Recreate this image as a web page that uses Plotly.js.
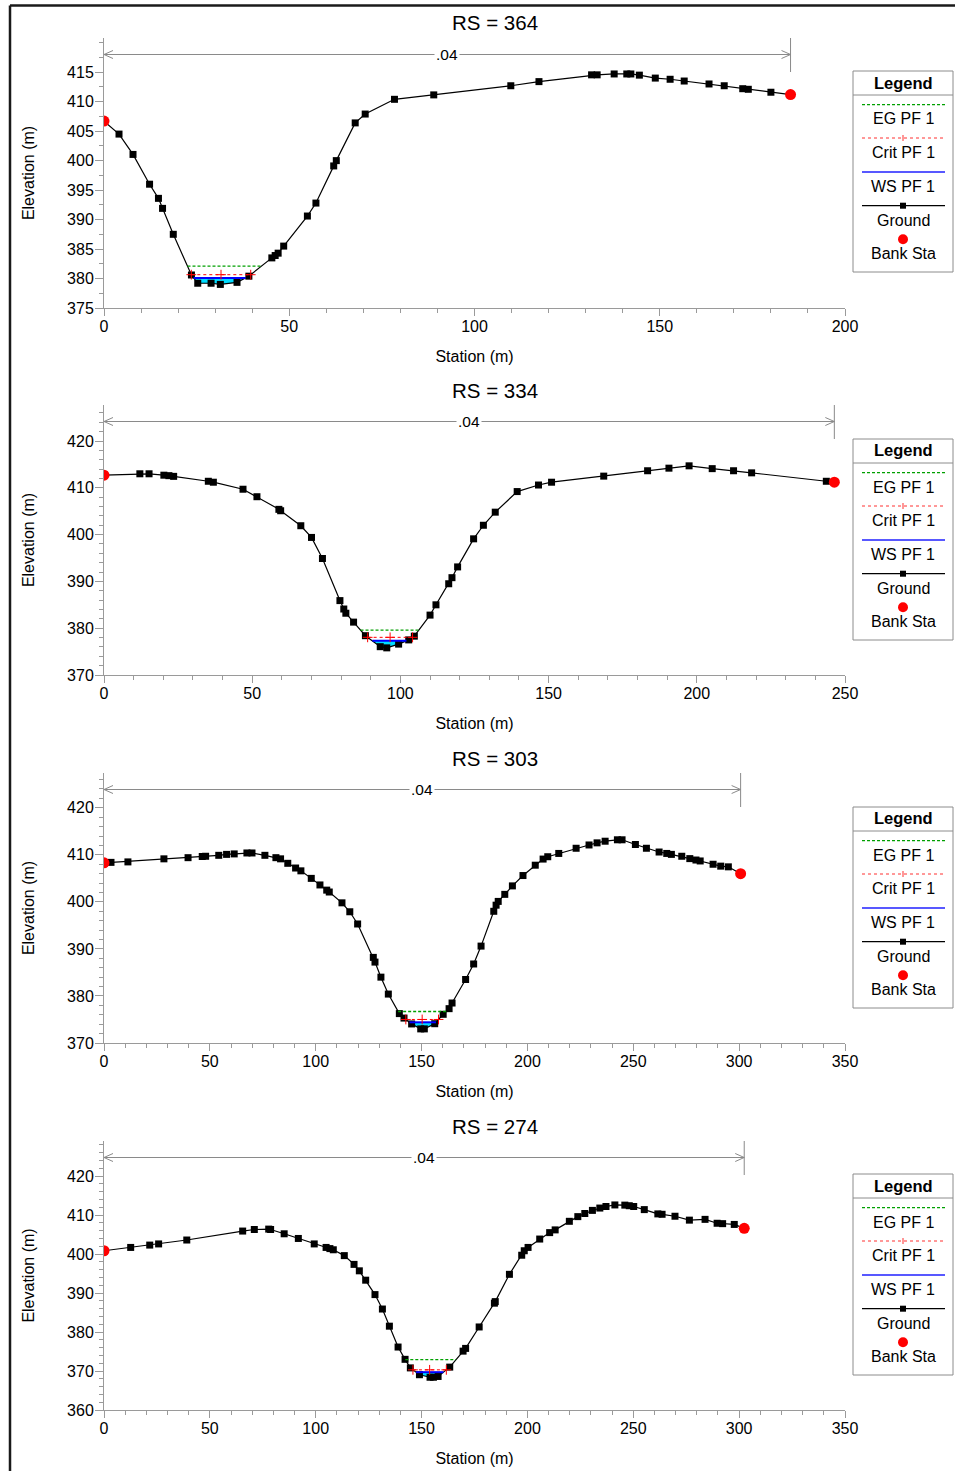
<!DOCTYPE html>
<html><head><meta charset="utf-8">
<script src="https://cdn.plot.ly/plotly-3.0.1.min.js"></script>
<style>html,body{margin:0;padding:0;background:#fff}#chart{width:955px;height:1471px}</style>
</head><body><div id="chart"></div>
<script>
// ---------------- DATA ----------------
const titles = ['RS = 364', 'RS = 334', 'RS = 303', 'RS = 274'];
const nValue = '.04';
const legendLabels = ['EG PF 1', 'Crit PF 1', 'WS PF 1', 'Ground', 'Bank Sta'];

// y tick labels per panel
const yTicks364 = [375, 380, 385, 390, 395, 400, 405, 410, 415];
const yTicks334 = [370, 380, 390, 400, 410, 420];
const yTicks303 = [370, 380, 390, 400, 410, 420];
const yTicks274 = [360, 370, 380, 390, 400, 410, 420];

const sta364 = [0, 4.05, 7.83, 12.3, 14.7, 15.8, 18.7, 23.6, 25.3, 28.9, 31.4, 35.9, 39.1, 45.3, 46.2, 47.0, 48.5, 54.9, 57.2, 62.0, 62.7, 67.8, 70.5, 78.4, 89.0, 109.8, 117.4, 131.6, 133.1, 137.7, 141.1, 142.2, 144.5, 148.8, 152.8, 156.6, 163.3, 167.4, 172.4, 173.9, 180.0, 185.3];
const elev364 = [406.7, 404.5, 401.05, 396.0, 393.6, 391.9, 387.5, 380.6, 379.2, 379.2, 379.0, 379.35, 380.4, 383.5, 383.9, 384.3, 385.5, 390.6, 392.8, 399.1, 400.0, 406.4, 407.9, 410.4, 411.15, 412.7, 413.4, 414.55, 414.55, 414.7, 414.7, 414.7, 414.5, 414.0, 413.8, 413.5, 413.0, 412.7, 412.2, 412.1, 411.6, 411.2];
const bankSta364 = [0, 185.3];
const bankElev364 = [406.7, 411.2];

const sta334 = [0, 12.1, 15.2, 20.2, 21.9, 23.5, 35.2, 36.9, 46.9, 51.6, 59.0, 59.6, 66.4, 70.0, 73.7, 79.6, 80.9, 81.6, 84.2, 88.2, 93.2, 95.4, 99.4, 102.8, 104.7, 110.0, 112.0, 116.3, 117.4, 119.3, 124.7, 128.0, 132.0, 139.4, 146.6, 151.0, 168.6, 183.4, 190.6, 197.4, 205.2, 212.4, 218.5, 243.7, 246.4];
const elev334 = [412.7, 413.0, 413.0, 412.7, 412.6, 412.45, 411.4, 411.2, 409.7, 408.1, 405.4, 405.1, 401.9, 399.4, 394.9, 385.9, 384.1, 383.2, 381.3, 378.4, 376.05, 375.8, 376.6, 377.5, 378.3, 382.8, 385.0, 389.5, 390.8, 393.1, 399.1, 402.0, 404.8, 409.2, 410.6, 411.2, 412.5, 413.65, 414.2, 414.7, 414.1, 413.65, 413.2, 411.4, 411.2];
const bankSta334 = [0, 246.4];
const bankElev334 = [412.7, 411.2];

const sta303 = [0, 3.3, 11.3, 28.3, 39.7, 46.4, 48.0, 54.2, 57.9, 61.5, 67.5, 69.9, 76.0, 81.2, 83.4, 86.8, 90.5, 93.0, 97.9, 102.0, 105.2, 106.4, 112.4, 116.1, 119.8, 127.2, 128.0, 130.8, 134.3, 139.5, 141.7, 145.3, 149.6, 151.3, 156.2, 160.2, 163.0, 164.4, 170.8, 174.6, 178.1, 184.1, 185.2, 186.2, 189.3, 192.9, 197.9, 203.7, 207.4, 209.6, 214.8, 223.0, 229.1, 232.9, 236.7, 242.5, 244.7, 251.0, 256.2, 262.2, 265.8, 268.0, 272.9, 276.7, 279.6, 281.6, 287.7, 291.3, 294.9, 300.7];
const elev303 = [408.3, 408.4, 408.5, 409.15, 409.4, 409.65, 409.7, 409.9, 410.1, 410.2, 410.4, 410.4, 409.9, 409.4, 409.15, 408.2, 407.2, 406.6, 405.0, 403.6, 402.5, 402.1, 399.8, 397.9, 395.3, 388.2, 387.2, 384.0, 380.4, 376.25, 375.3, 374.05, 373.0, 373.0, 374.1, 376.1, 377.3, 378.5, 383.5, 386.8, 390.6, 398.0, 399.3, 400.1, 401.6, 403.4, 405.6, 407.8, 409.1, 409.6, 410.3, 411.4, 412.1, 412.55, 412.9, 413.2, 413.2, 412.2, 411.4, 410.6, 410.3, 410.1, 409.7, 409.2, 408.9, 408.7, 408.0, 407.6, 407.45, 406.0];
const bankSta303 = [0, 300.7];
const bankElev303 = [408.3, 406.0];

const sta274 = [0, 12.6, 21.6, 25.8, 39.1, 65.5, 71.0, 77.8, 78.7, 85.1, 91.8, 99.3, 104.9, 106.7, 108.3, 113.5, 118.1, 120.6, 123.6, 128.0, 131.5, 134.8, 138.9, 142.2, 144.7, 149.0, 154.0, 155.6, 157.8, 163.3, 169.6, 170.8, 177.2, 184.4, 184.8, 191.5, 197.3, 198.5, 200.3, 205.8, 210.5, 213.1, 219.8, 223.8, 227.1, 230.7, 234.2, 237.1, 241.3, 246.0, 248.1, 250.2, 255.2, 261.6, 263.6, 269.7, 276.5, 283.9, 289.6, 292.2, 297.7, 302.4];
const elev274 = [400.85, 401.7, 402.3, 402.6, 403.6, 405.9, 406.3, 406.4, 406.3, 405.2, 404.0, 402.6, 401.7, 401.4, 401.1, 399.6, 397.35, 395.7, 393.3, 389.6, 385.9, 381.5, 376.15, 373.0, 370.8, 369.05, 368.4, 368.4, 368.6, 371.0, 375.1, 375.8, 381.3, 387.4, 387.8, 394.8, 399.7, 400.85, 401.7, 403.85, 405.5, 406.2, 408.4, 409.6, 410.4, 411.2, 411.8, 412.2, 412.6, 412.55, 412.4, 412.2, 411.4, 410.3, 410.2, 409.7, 408.7, 408.9, 407.9, 407.8, 407.6, 406.6];
const bankSta274 = [0, 302.4];
const bankElev274 = [400.85, 406.6];

// water levels [364, 334, 303, 274]
const egLevels   = [382.1, 379.6, 376.7, 372.9];
const critLevels = [380.65, 378.05, 375.0, 370.3];
const wsLevels   = [380.1, 377.3, 374.4, 369.7];

// ---------------- LAYOUT SPEC (pixels) ----------------
const W = 955, H = 1471;
const FONT = 'Liberation Sans, Arial, sans-serif';
const px = v => v / W;
const py = v => 1 - v / H;
const plotLeft = 104, plotRight = 845;
const spec = [
  {bottom: 308, top: 38, yr: [375, 420.8], ymin: 2.5, xr: [0, 200], titleY: 22, legTop: 71},
  {bottom: 675, top: 405, yr: [370, 427.7], ymin: 2, xr: [0, 250], titleY: 390, legTop: 439},
  {bottom: 1043, top: 773, yr: [370, 427.4], ymin: 2, xr: [0, 350], titleY: 758, legTop: 807},
  {bottom: 1410, top: 1141, yr: [360, 429], ymin: 2, xr: [0, 350], titleY: 1126, legTop: 1174}
];
const panels = [
  {sta: sta364, elev: elev364, bs: bankSta364, be: bankElev364, yt: yTicks364},
  {sta: sta334, elev: elev334, bs: bankSta334, be: bankElev334, yt: yTicks334},
  {sta: sta303, elev: elev303, bs: bankSta303, be: bankElev303, yt: yTicks303},
  {sta: sta274, elev: elev274, bs: bankSta274, be: bankElev274, yt: yTicks274}
];

function crossings(xs, ys, L) {
  let imin = 0;
  for (let k = 1; k < ys.length; k++) if (ys[k] < ys[imin]) imin = k;
  let i = imin; while (i > 0 && ys[i - 1] < L) i--;
  const xl = i > 0 ? xs[i - 1] + (L - ys[i - 1]) * (xs[i] - xs[i - 1]) / (ys[i] - ys[i - 1]) : xs[0];
  let j = imin; while (j < xs.length - 1 && ys[j + 1] < L) j++;
  const xr = j < xs.length - 1 ? xs[j] + (L - ys[j]) * (xs[j + 1] - xs[j]) / (ys[j + 1] - ys[j]) : xs[xs.length - 1];
  return {xl, xr, i, j};
}

const traces = [];
const layout = {
  width: W, height: H, margin: {l: 0, r: 0, t: 0, b: 0},
  paper_bgcolor: '#fff', plot_bgcolor: '#fff',
  showlegend: false,
  font: {family: FONT, size: 16, color: '#000'},
  shapes: [], annotations: []
};

const axisColor = '#9a9a9a';
panels.forEach((p, k) => {
  const s = spec[k];
  const xa = k === 0 ? 'xaxis' : 'xaxis' + (k + 1);
  const ya = k === 0 ? 'yaxis' : 'yaxis' + (k + 1);
  const xr = k === 0 ? 'x' : 'x' + (k + 1);
  const yr = k === 0 ? 'y' : 'y' + (k + 1);
  layout[xa] = {
    domain: [px(plotLeft), px(plotRight)], anchor: yr, range: s.xr,
    dtick: 50, tick0: 0, ticks: 'outside', ticklen: 7, tickcolor: axisColor,
    ticklabelstandoff: -3,
    minor: {dtick: 10, ticks: 'outside', ticklen: 4, tickcolor: axisColor, showgrid: false},
    showline: true, linecolor: axisColor, linewidth: 1, showgrid: false, zeroline: false,
    tickfont: {size: 16, family: FONT, color: '#000'},
    title: {text: 'Station (m)', font: {size: 16, family: FONT, color: '#000'}, standoff: 16},
    fixedrange: true
  };
  layout[ya] = {
    domain: [py(s.bottom), py(s.top)], anchor: xr, range: s.yr,
    tickmode: 'array', tickvals: p.yt, ticks: 'outside', ticklen: 8, tickcolor: axisColor,
    ticklabelstandoff: -2,
    minor: {tickmode: 'linear', tick0: 0, dtick: s.ymin, ticks: 'outside', ticklen: 4, tickcolor: axisColor, showgrid: false},
    showline: true, linecolor: axisColor, linewidth: 1, showgrid: false, zeroline: false,
    tickfont: {size: 16, family: FONT, color: '#000'},
    title: {text: 'Elevation (m)', font: {size: 16, family: FONT, color: '#000'}, standoff: 28},
    fixedrange: true
  };

  const ws = crossings(p.sta, p.elev, wsLevels[k]);
  const eg = crossings(p.sta, p.elev, egLevels[k]);
  const cr = crossings(p.sta, p.elev, critLevels[k]);

  // water fill
  const fx = [ws.xl].concat(p.sta.slice(ws.i, ws.j + 1), [ws.xr]);
  const fy = [wsLevels[k]].concat(p.elev.slice(ws.i, ws.j + 1), [wsLevels[k]]);
  traces.push({x: fx, y: fy, xaxis: xr, yaxis: yr, mode: 'lines', fill: 'toself',
    fillcolor: '#00dcff', line: {width: 0, color: '#00dcff'}, hoverinfo: 'skip', name: 'WS fill'});
  // ground
  traces.push({x: p.sta, y: p.elev, xaxis: xr, yaxis: yr, mode: 'lines+markers', name: 'Ground',
    line: {color: '#000', width: 1.2}, marker: {symbol: 'square', size: 7, color: '#000'}});
  // EG
  traces.push({x: [eg.xl, eg.xr], y: [egLevels[k], egLevels[k]], xaxis: xr, yaxis: yr, mode: 'lines',
    name: 'EG PF 1', line: {color: '#00a000', dash: '3px,2px', width: 1.3}});
  // WS
  traces.push({x: [ws.xl, ws.xr], y: [wsLevels[k], wsLevels[k]], xaxis: xr, yaxis: yr, mode: 'lines',
    name: 'WS PF 1', line: {color: '#0000ff', width: 2}});
  // Crit
  traces.push({x: [cr.xl, (cr.xl + cr.xr) / 2, cr.xr], y: [critLevels[k], critLevels[k], critLevels[k]],
    xaxis: xr, yaxis: yr, mode: 'lines+markers', name: 'Crit PF 1',
    line: {color: '#ff0000', dash: 'dot', width: 1},
    marker: {symbol: 'cross-thin', size: 7, line: {color: '#ff0000', width: 1}}});
  // Bank Sta
  traces.push({x: p.bs, y: p.be, xaxis: xr, yaxis: yr, mode: 'markers', name: 'Bank Sta',
    marker: {symbol: 'circle', size: 11, color: '#ff0000'}});

  // subplot title
  layout.annotations.push({text: titles[k], xref: 'paper', yref: 'paper', x: px(494.5), y: py(s.titleY),
    xanchor: 'center', yanchor: 'middle', showarrow: false, font: {size: 20.5, family: FONT, color: '#000'}});

  // n-value line
  const nY = py(s.top + 16.5);
  const bankR = p.bs[1];
  const gray = '#8a8a8a';
  layout.shapes.push({type: 'line', xref: xr, yref: 'paper', x0: 0, x1: bankR, y0: nY, y1: nY,
    line: {color: gray, width: 1}});
  layout.shapes.push({type: 'line', xref: xr, yref: 'paper', x0: bankR, x1: bankR, y0: py(s.top), y1: py(s.top + 34),
    line: {color: gray, width: 1}});
  layout.shapes.push({type: 'path', xref: xr, yref: 'paper', xsizemode: 'pixel', ysizemode: 'pixel',
    xanchor: 0, yanchor: nY, path: 'M 9 4 L 0 0 L 9 -4', line: {color: gray, width: 1}});
  layout.shapes.push({type: 'path', xref: xr, yref: 'paper', xsizemode: 'pixel', ysizemode: 'pixel',
    xanchor: bankR, yanchor: nY, path: 'M -9 4 L 0 0 L -9 -4', line: {color: gray, width: 1}});
  layout.annotations.push({text: nValue, xref: xr, yref: 'paper', x: bankR / 2, y: nY,
    xanchor: 'center', yanchor: 'middle', showarrow: false, bgcolor: '#fff', borderpad: 1,
    font: {size: 15.5, family: FONT, color: '#000'}});

  // custom legend
  const lt = s.legTop;
  const L0 = px(862), L1 = px(945), LC = px(903);
  layout.shapes.push({type: 'rect', xref: 'paper', yref: 'paper', x0: px(853), x1: px(953),
    y0: py(lt + 201), y1: py(lt), line: {color: '#8c8c8c', width: 1}});
  layout.shapes.push({type: 'line', xref: 'paper', yref: 'paper', x0: px(853), x1: px(953),
    y0: py(lt + 24), y1: py(lt + 24), line: {color: '#8c8c8c', width: 1}});
  layout.annotations.push({text: '<b>Legend</b>', xref: 'paper', yref: 'paper', x: LC, y: py(lt + 11.5),
    xanchor: 'center', yanchor: 'middle', showarrow: false, font: {size: 16.5, family: FONT, color: '#000'}});
  const lineY = [33.7, 67, 101, 134.7, 168.3];
  const textY = [48, 81.7, 115.7, 149, 182.3];
  layout.shapes.push({type: 'line', xref: 'paper', yref: 'paper', x0: L0, x1: L1, y0: py(lt + lineY[0]), y1: py(lt + lineY[0]),
    line: {color: '#00a000', width: 1.3, dash: '3px,2px'}});
  layout.shapes.push({type: 'line', xref: 'paper', yref: 'paper', x0: L0, x1: L1, y0: py(lt + lineY[1]), y1: py(lt + lineY[1]),
    line: {color: '#ff3030', width: 1, dash: 'dot'}});
  layout.shapes.push({type: 'line', xref: 'paper', yref: 'paper', x0: LC, x1: LC, y0: py(lt + lineY[1] - 3), y1: py(lt + lineY[1] + 3),
    line: {color: '#ff3030', width: 1}});
  layout.shapes.push({type: 'line', xref: 'paper', yref: 'paper', x0: L0, x1: L1, y0: py(lt + lineY[2]), y1: py(lt + lineY[2]),
    line: {color: '#2020ff', width: 1.5}});
  layout.shapes.push({type: 'line', xref: 'paper', yref: 'paper', x0: L0, x1: L1, y0: py(lt + lineY[3]), y1: py(lt + lineY[3]),
    line: {color: '#000', width: 1.2}});
  layout.shapes.push({type: 'rect', xref: 'paper', yref: 'paper', x0: px(900), x1: px(906), y0: py(lt + lineY[3] + 3), y1: py(lt + lineY[3] - 3),
    fillcolor: '#000', line: {width: 0}});
  layout.shapes.push({type: 'circle', xref: 'paper', yref: 'paper', x0: px(898), x1: px(908), y0: py(lt + lineY[4] + 5), y1: py(lt + lineY[4] - 5),
    fillcolor: '#ff0000', line: {width: 0}});
  legendLabels.forEach((t, m) => {
    layout.annotations.push({text: t, xref: 'paper', yref: 'paper', x: LC, y: py(lt + textY[m]),
      xanchor: 'center', yanchor: 'middle', showarrow: false, font: {size: 16, family: FONT, color: '#000'}});
  });
});

// outer frame
layout.shapes.push({type: 'line', xref: 'paper', yref: 'paper', x0: px(10), x1: 1, y0: py(5.5), y1: py(5.5), line: {color: '#1a1a1a', width: 2.5}});
layout.shapes.push({type: 'line', xref: 'paper', yref: 'paper', x0: px(10), x1: px(10), y0: py(5.5), y1: 0, line: {color: '#1a1a1a', width: 2.5}});

Plotly.newPlot('chart', traces, layout, {displayModeBar: false, staticPlot: true});
</script>
</body></html>
